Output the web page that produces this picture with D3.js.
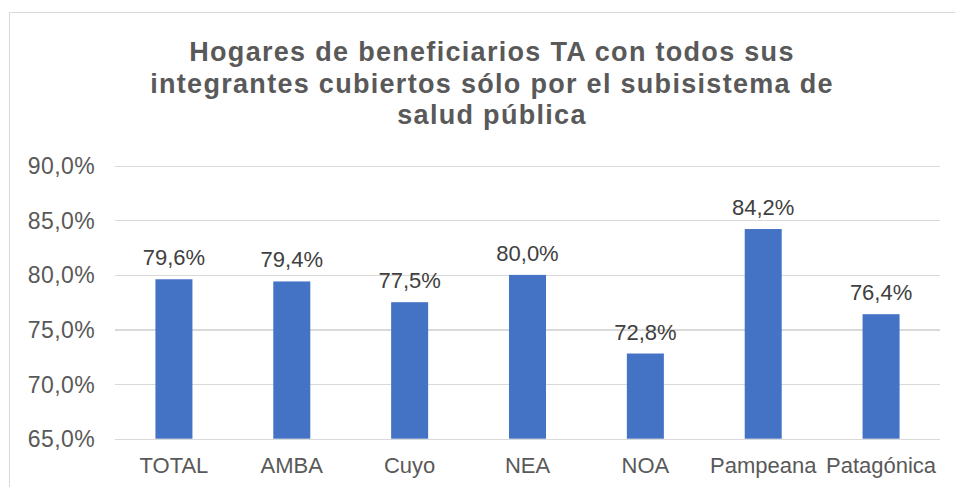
<!DOCTYPE html>
<meta charset="utf-8">
<style>
    body { margin: 0; background: #fff; }
    svg text { font-family: "Liberation Sans", Arial, sans-serif; }
    .grid line { stroke: #d9d9d9; stroke-width: 1.3px; shape-rendering: crispEdges; }
    .grid path { stroke: none; }
    .ylab text { fill: #595959; font-size: 23px; letter-spacing: 0.4px; }
    .xlab text { fill: #595959; font-size: 22px; }
    .vals { fill: #404040; font-size: 22px; }
    .plottitle { fill: #595959; font-size: 27px; font-weight: bold; letter-spacing: 1.3px; }
</style>
<body>
<svg></svg>

<script src="https://d3js.org/d3.v7.min.js"></script>
<script type='text/javascript'>

    var regions = ['TOTAL', 'AMBA', 'Cuyo', 'NEA', 'NOA', 'Pampeana', 'Patagónica'];
    var values = [79.6, 79.4, 77.5, 80.0, 72.8, 84.2, 76.4];
    var yTicks = [65, 70, 75, 80, 85, 90];
    var titleLines = ['Hogares de beneficiarios TA con todos sus',
                      'integrantes cubiertos sólo por el subisistema de',
                      'salud pública'];

    var w = 955, h = 487;
    var plot = {left: 115, right: 940, top: 165.7, bottom: 438.7};

    var svg = d3.select('svg')
        .attr('width', w)
        .attr('height', h);

    // chart frame
    svg.append('rect')
        .attr('x', 9.5).attr('y', 12.5)
        .attr('width', 1000).attr('height', 600)
        .attr('fill', '#fff')
        .attr('stroke', '#d9d9d9')
        .attr('stroke-width', 1);

    var x = d3.scaleBand()
        .domain(regions)
        .range([plot.left, plot.right])
        .paddingInner(0.686)
        .paddingOuter(0.343);

    var y = d3.scaleLinear()
        .domain([65, 90])
        .range([plot.bottom, plot.top]);

    var fmt = function(v) { return d3.format('.1f')(v).replace('.', ',') + '%'; };

    // gridlines
    svg.append('g')
        .attr('class', 'grid')
        .attr('transform', 'translate(' + plot.left + ',0)')
        .call(d3.axisLeft(y).tickValues(yTicks).tickSize(-(plot.right - plot.left)).tickFormat(''))
        .selectAll('text').remove();

    // y labels
    svg.append('g')
        .attr('class', 'ylab')
        .selectAll('text')
        .data(yTicks)
        .enter().append('text')
        .attr('x', 95)
        .attr('y', function(d) { return y(d) + 8.5; })
        .attr('text-anchor', 'end')
        .text(function(d) { return fmt(d); });

    // bars
    svg.append('g')
        .selectAll('rect')
        .data(values)
        .enter().append('rect')
        .attr('x', function(d, i) { return x(regions[i]); })
        .attr('y', function(d) { return y(d); })
        .attr('width', x.bandwidth())
        .attr('height', function(d) { return y(65) - y(d); })
        .attr('fill', '#4472C4');

    // value labels
    svg.append('g')
        .selectAll('text')
        .data(values)
        .enter().append('text')
        .attr('class', 'vals')
        .attr('x', function(d, i) { return x(regions[i]) + x.bandwidth() / 2; })
        .attr('y', function(d) { return y(d) - 14; })
        .attr('text-anchor', 'middle')
        .text(function(d) { return fmt(d); });

    // category labels
    svg.append('g')
        .attr('class', 'xlab')
        .selectAll('text')
        .data(regions)
        .enter().append('text')
        .attr('x', function(d) { return x(d) + x.bandwidth() / 2; })
        .attr('y', 473)
        .attr('text-anchor', 'middle')
        .text(function(d) { return d; });

    // title
    svg.append('g')
        .selectAll('text')
        .data(titleLines)
        .enter().append('text')
        .attr('class', 'plottitle')
        .attr('x', 492)
        .attr('y', function(d, i) { return 61 + i * 31.7; })
        .attr('text-anchor', 'middle')
        .text(function(d) { return d; });

</script>
